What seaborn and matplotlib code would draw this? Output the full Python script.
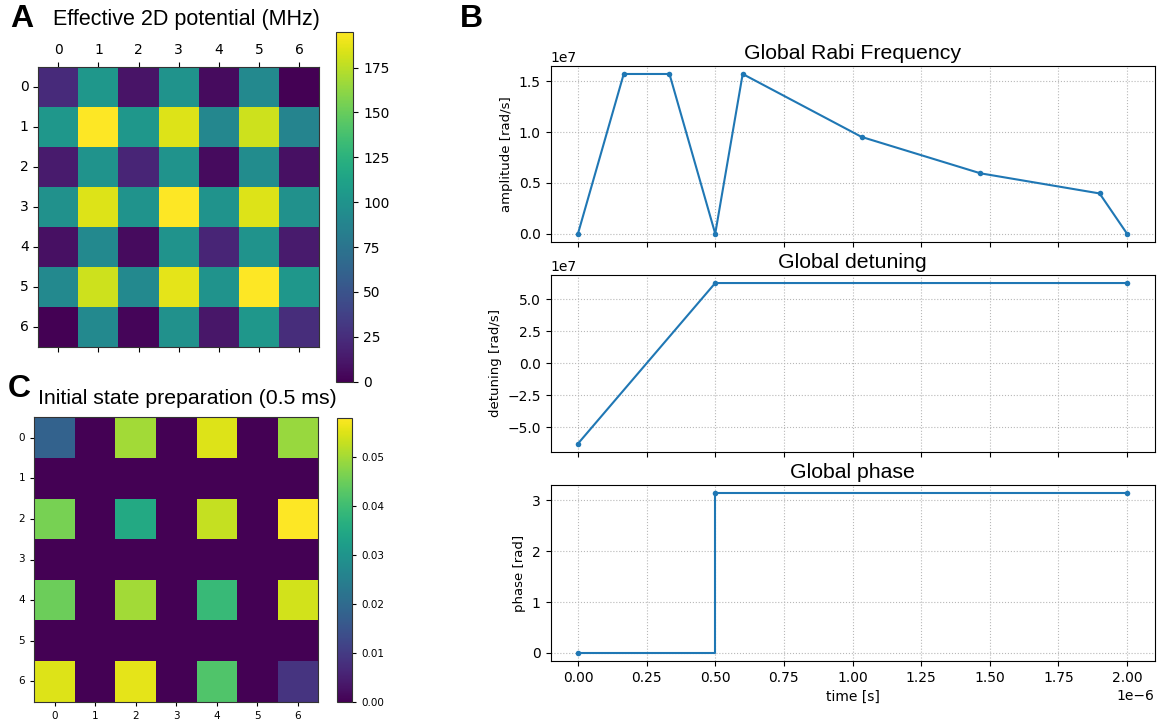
import numpy as np
import pandas as pd
import matplotlib
matplotlib.use("Agg")
import matplotlib.pyplot as plt
import seaborn as sns

# ---------------- data ----------------
potential_rows = [
    [23, 103, 10, 100, 6, 92, 0],
    [103, 195, 103, 185, 90, 180, 88],
    [14, 100, 20, 100, 6, 94, 8],
    [98, 185, 100, 195, 100, 185, 98],
    [8, 92, 6, 100, 20, 100, 14],
    [92, 180, 92, 187, 100, 195, 103],
    [0, 92, 3, 98, 12, 103, 25],
]
init_rows = [
    [0.018, 0.0, 0.050, 0.0, 0.055, 0.0, 0.049],
    [0.0, 0.0, 0.0, 0.0, 0.0, 0.0, 0.0],
    [0.046, 0.0, 0.035, 0.0, 0.053, 0.0, 0.058],
    [0.0, 0.0, 0.0, 0.0, 0.0, 0.0, 0.0],
    [0.045, 0.0, 0.050, 0.0, 0.039, 0.0, 0.054],
    [0.0, 0.0, 0.0, 0.0, 0.0, 0.0, 0.0],
    [0.055, 0.0, 0.0557, 0.0, 0.042, 0.0, 0.0087],
]
grid_labels = ["0", "1", "2", "3", "4", "5", "6"]

rabi_t = [0.0, 0.1667e-6, 0.3333e-6, 0.5e-6, 0.6e-6, 1.033e-6, 1.466e-6, 1.9e-6, 2.0e-6]
rabi_amp = [0.0, 1.5708e7, 1.5708e7, 0.0, 1.5708e7, 0.952e7, 0.594e7, 0.396e7, 0.0]
det_t = [0.0, 0.5e-6, 2.0e-6]
det_val = [-6.2832e7, 6.2832e7, 6.2832e7]
phase_t = [0.0, 0.5e-6, 2.0e-6]
phase_val = [0.0, np.pi, np.pi]

# ---------------- style ----------------
sns.set_style("ticks", {"axes.edgecolor": "black", "text.color": "black",
                        "axes.labelcolor": "black", "xtick.color": "black",
                        "ytick.color": "black"})
plt.rcParams["font.family"] = ["DejaVu Sans"]
TITLE_FONT = ["Liberation Sans", "DejaVu Sans"]

W, H = 1166, 725
fig = plt.figure(figsize=(W / 100, H / 100), dpi=100)


def box(l, t, r, b):
    return [l / W, 1 - b / H, (r - l) / W, (b - t) / H]


# ---------------- Panel A ----------------
axA = fig.add_axes(box(38.3, 66.7, 319, 346.7))
caxA = fig.add_axes(box(336, 31.7, 353.3, 381.7))
dfA = pd.DataFrame(potential_rows, index=grid_labels, columns=grid_labels)
sns.heatmap(dfA, ax=axA, cbar_ax=caxA, cmap="viridis", vmin=0, vmax=max(max(r) for r in potential_rows),
            square=False)
for s in axA.spines.values():
    s.set_visible(True)
    s.set_color("#333333")
    s.set_linewidth(0.8)
axA.tick_params(axis="x", top=True, bottom=True, labeltop=True, labelbottom=False,
                length=3.5, width=0.8, labelsize=10, labelrotation=0)
axA.tick_params(axis="y", left=True, length=3.5, width=0.8, labelsize=10, labelrotation=0)
cbA = axA.collections[0].colorbar
cbA.outline.set_linewidth(0.8)
cbA.outline.set_edgecolor("#333333")
cbA.set_ticks([0, 25, 50, 75, 100, 125, 150, 175])
caxA.tick_params(labelsize=10, length=3.5, width=0.8)
fig.text(186 / W, 1 - 20 / H, "Effective 2D potential (MHz)", ha="center", va="center",
         fontsize=15.5, family=TITLE_FONT)

# ---------------- Panel C ----------------
axC = fig.add_axes(box(34.3, 417.3, 318.3, 701.7))
caxC = fig.add_axes(box(337.3, 418, 352.3, 702))
dfC = pd.DataFrame(init_rows, index=grid_labels, columns=grid_labels)
sns.heatmap(dfC, ax=axC, cbar_ax=caxC, cmap="viridis", vmin=0, vmax=max(max(r) for r in init_rows),
            square=False)
for s in axC.spines.values():
    s.set_visible(True)
    s.set_color("#333333")
    s.set_linewidth(0.8)
axC.tick_params(axis="both", length=3, width=0.8, labelsize=7.5, labelrotation=0)
cbC = axC.collections[0].colorbar
cbC.outline.set_linewidth(0.8)
cbC.outline.set_edgecolor("#333333")
cbC.set_ticks([0.0, 0.01, 0.02, 0.03, 0.04, 0.05])
cbC.ax.yaxis.set_major_formatter(matplotlib.ticker.FormatStrFormatter("%.2f"))
caxC.tick_params(labelsize=7.5, length=3, width=0.8)
fig.text(187 / W, 1 - 398 / H, "Initial state preparation (0.5 ms)", ha="center", va="center",
         fontsize=15.3, family=TITLE_FONT)

# ---------------- Panel B ----------------
ax1 = fig.add_axes(box(550.5, 66, 1154.5, 241.7))
ax2 = fig.add_axes(box(550.5, 275, 1154.5, 451.7), sharex=ax1)
ax3 = fig.add_axes(box(550.5, 485, 1154.5, 661), sharex=ax1)
blue = "#1f77b4"
sns.lineplot(x=rabi_t, y=rabi_amp, ax=ax1, color=blue, marker="o", markersize=4,
             markeredgewidth=0, linewidth=1.5)
sns.lineplot(x=det_t, y=det_val, ax=ax2, color=blue, marker="o", markersize=4,
             markeredgewidth=0, linewidth=1.5)
sns.lineplot(x=phase_t, y=phase_val, ax=ax3, color=blue, marker="o", markersize=4,
             markeredgewidth=0, linewidth=1.5, drawstyle="steps-post")

for ax, title, ylab in [(ax1, "Global Rabi Frequency", "amplitude [rad/s]"),
                        (ax2, "Global detuning", "detuning [rad/s]"),
                        (ax3, "Global phase", "phase [rad]")]:
    ax.grid(True, linestyle=":", color="#b8b8b8", linewidth=0.8)
    ax.set_title(title, fontsize=15.3, family=TITLE_FONT, pad=5)
    ax.set_ylabel(ylab, fontsize=9.5)
    ax.tick_params(labelsize=10, length=3.5, width=0.8)
    for s in ax.spines.values():
        s.set_linewidth(0.8)
for ax in (ax1, ax2):
    ax.tick_params(labelbottom=False)
    ax.xaxis.offsetText.set_visible(False)
ax3.set_xticks([0, 0.25e-6, 0.5e-6, 0.75e-6, 1.0e-6, 1.25e-6, 1.5e-6, 1.75e-6, 2.0e-6])
ax3.set_xlabel("time [s]", fontsize=10)
ax2.set_yticks([-5e7, -2.5e7, 0, 2.5e7, 5e7])
ax1.set_yticks([0, 0.5e7, 1.0e7, 1.5e7])
ax3.set_yticks([0, 1, 2, 3])

# panel letters
for x, y, letter in [(10, 4, "A"), (460, 4, "B"), (8, 374, "C")]:
    fig.text(x / W, 1 - y / H, letter, ha="left", va="top", fontsize=23,
             fontweight="bold", family=TITLE_FONT)

fig.savefig("out.png", dpi=100)
